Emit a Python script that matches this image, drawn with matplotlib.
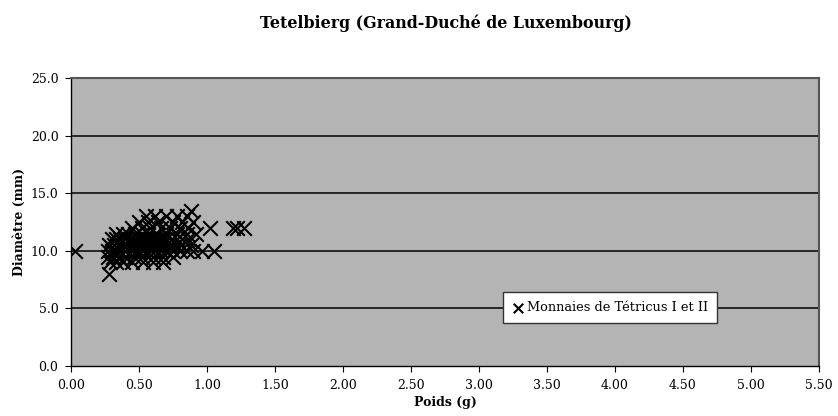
import matplotlib
matplotlib.use("Agg")
import matplotlib.pyplot as plt

# Data: weight (g) and diameter (mm) of coins
rows = {
    13.5: [0.88],
    13.0: [0.55, 0.62, 0.70, 0.78, 0.85],
    12.5: [0.50, 0.57, 0.64, 0.75, 0.82, 0.90],
    12.0: [0.45, 0.52, 0.58, 0.66, 0.73, 0.80, 0.86, 1.02, 1.19, 1.22, 1.27],
    11.5: [0.33, 0.38, 0.42, 0.47, 0.52, 0.57, 0.63, 0.70, 0.78, 0.85, 0.92],
    11.0: [0.30, 0.33, 0.36, 0.40, 0.44, 0.48, 0.50, 0.52, 0.54, 0.56, 0.58,
           0.60, 0.62, 0.64, 0.66, 0.68, 0.70, 0.74, 0.78, 0.82, 0.86],
    10.5: [0.28, 0.32, 0.35, 0.38, 0.41, 0.45, 0.47, 0.49, 0.51, 0.53, 0.55,
           0.57, 0.59, 0.61, 0.63, 0.65, 0.67, 0.70, 0.73, 0.77, 0.81, 0.88],
    10.0: [0.03, 0.27, 0.30, 0.33, 0.36, 0.40, 0.45, 0.48, 0.50, 0.53, 0.56,
           0.59, 0.62, 0.66, 0.70, 0.75, 0.80, 0.85, 0.90, 0.96, 1.05],
    9.5: [0.27, 0.31, 0.35, 0.40, 0.46, 0.52, 0.60, 0.68, 0.75],
    9.0: [0.29, 0.33, 0.38, 0.45, 0.53, 0.60, 0.68],
    8.0: [0.28],
}
poids = [w for d, ws in rows.items() for w in ws]
diametre = [d for d, ws in rows.items() for w in ws]

x_ticks = [0.0, 0.5, 1.0, 1.5, 2.0, 2.5, 3.0, 3.5, 4.0, 4.5, 5.0, 5.5]
y_ticks = [0.0, 5.0, 10.0, 15.0, 20.0, 25.0]

serif = ["DejaVu Serif"]
plt.rcParams["font.family"] = serif

fig = plt.figure(figsize=(8.38, 4.16), dpi=100)
ax = fig.add_axes([0.0847, 0.120, 0.8926, 0.6925])
ax.set_facecolor("#b4b4b4")

for yv in y_ticks[1:-1]:
    ax.axhline(yv, color="black", lw=1.1, zorder=1)

ax.scatter(poids, diametre, marker="x", s=110, color="black", linewidths=1.5,
           zorder=3, label="Monnaies de Tétricus I et II")

ax.set_xlim(0, 5.5)
ax.set_ylim(0, 25)
ax.set_xticks(x_ticks)
ax.set_xticklabels([f"{v:.2f}" for v in x_ticks])
ax.set_yticks(y_ticks)
ax.set_yticklabels([f"{v:.1f}" for v in y_ticks])
ax.tick_params(direction="out", length=4, labelsize=9, colors="black", pad=5)

for s in ["top", "right"]:
    ax.spines[s].set_color("#555555")
    ax.spines[s].set_linewidth(1.5)
for s in ["left", "bottom"]:
    ax.spines[s].set_color("black")
    ax.spines[s].set_linewidth(1.0)

ax.set_xlabel("Poids (g)", fontsize=9, fontweight="bold", labelpad=3)
ax.set_ylabel("Diamètre (mm)", fontsize=9, fontweight="bold", labelpad=3)
fig.text(0.532, 0.945, "Tetelbierg (Grand-Duché de Luxembourg)",
         ha="center", va="center", fontsize=11.4, fontweight="bold")

leg = ax.legend(loc="lower left", bbox_to_anchor=(0.578, 0.149),
                borderaxespad=0, fancybox=False, frameon=True,
                fontsize=9.3, handletextpad=0.3, handlelength=0.8,
                borderpad=0.7, markerscale=0.65)
leg.get_frame().set_edgecolor("#333333")
leg.get_frame().set_linewidth(1.0)
leg.get_frame().set_facecolor("white")
leg.get_frame().set_alpha(1)

fig.savefig("out.png", dpi=100)
